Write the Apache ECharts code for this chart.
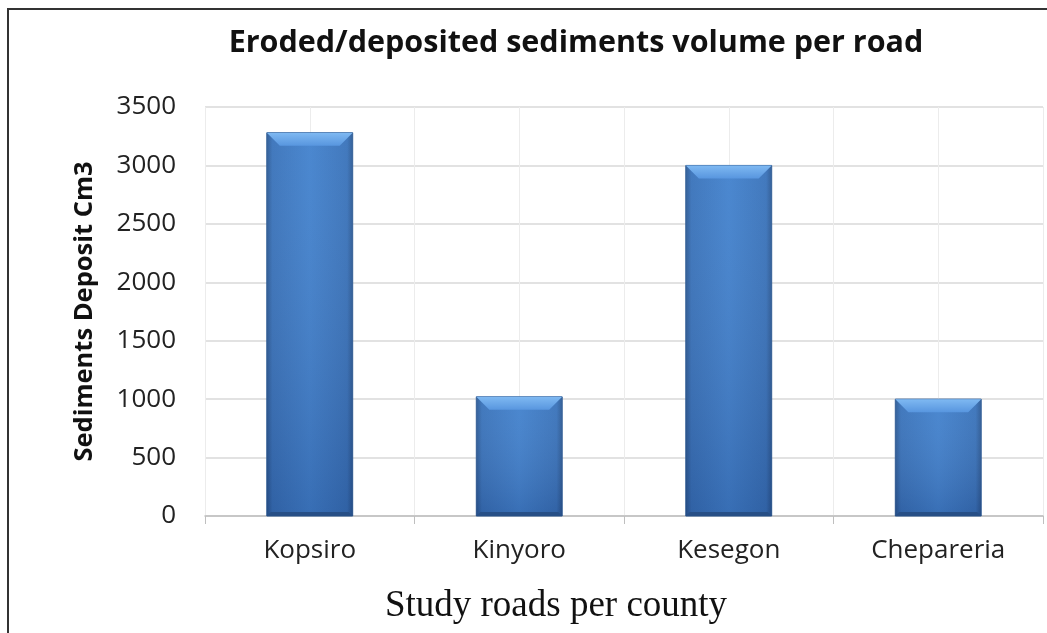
<!DOCTYPE html>
<html><head><meta charset="utf-8">
<script src="https://cdn.jsdelivr.net/npm/echarts@6/dist/echarts.min.js"></script>
<style>html,body{margin:0;padding:0;background:#fff}#c{width:1047px;height:633px}</style>
</head><body><div id="c"></div>
<script>
var categories = ["Kopsiro", "Kinyoro", "Kesegon", "Chepareria"];
var values = [3280, 1020, 3000, 1000];
var yTicks = {min: 0, max: 3500, interval: 500};

var chart = echarts.init(document.getElementById('c'));
function renderBar(params, api) {
  var i = api.value(0), v = api.value(1);
  var top = api.coord([i, v]);
  var bot = api.coord([i, 0]);
  var w = api.size([1, 0])[0] * 0.41;
  var x0 = top[0] - w / 2, x1 = top[0] + w / 2, y0 = top[1], y1 = bot[1];
  var b = 13;
  return {
    type: 'group',
    children: [
      {type: 'rect', shape: {x: x0, y: y0, width: w, height: y1 - y0},
       style: {fill: new echarts.graphic.LinearGradient(0, 0, 1, 0, [
         {offset: 0, color: '#2a5791'}, {offset: 0.07, color: '#3872ba'},
         {offset: 0.5, color: '#4181cd'}, {offset: 0.93, color: '#3872ba'},
         {offset: 1, color: '#2a5791'}]), stroke: '#2d5b94', lineWidth: 1}},
      {type: 'rect', shape: {x: x0, y: y0, width: w, height: y1 - y0},
       style: {fill: new echarts.graphic.LinearGradient(0, 0, 0, 1, [
         {offset: 0, color: 'rgba(255,255,255,0.05)'}, {offset: 1, color: 'rgba(0,0,40,0.15)'}])}},
      {type: 'polygon', shape: {points: [[x0, y0], [x1, y0], [x1 - b, y0 + b], [x0 + b, y0 + b]]},
       style: {fill: new echarts.graphic.LinearGradient(0, 0, 0, 1, [
         {offset: 0, color: '#7fb9f2'}, {offset: 1, color: '#5896df'}])}},
      {type: 'polygon', shape: {points: [[x0, y1], [x1, y1], [x1 - 4, y1 - 4], [x0 + 4, y1 - 4]]},
       style: {fill: '#274f86'}}
    ]
  };
}
chart.setOption({
  animation: false,
  graphic: [{type: 'rect', shape: {x: 8, y: 9, width: 1060, height: 650},
    style: {fill: 'none', stroke: '#333', lineWidth: 2}, z: 100}],
  title: {text: 'Eroded/deposited sediments volume per road', left: 571, top: 23, textAlign: 'center',
    textStyle: {fontFamily: 'Open Sans', fontWeight: 'bold', fontSize: 30.5, color: '#111'}},
  grid: {left: 205, right: 4, top: 107, bottom: 117},
  xAxis: [{
    type: 'category', data: categories, boundaryGap: true,
    axisLine: {lineStyle: {color: '#bfbfbf', width: 1.5}},
    axisTick: {show: true, length: 8, lineStyle: {color: '#bfbfbf'}},
    axisLabel: {fontFamily: 'Open Sans', fontSize: 26, color: '#222', margin: 22},
    name: 'Study roads per county', nameLocation: 'middle', nameGap: 72,
    nameTextStyle: {fontFamily: 'Liberation Serif', fontSize: 37, color: '#111', padding: [0, 136, 0, 0]}
  }, {
    type: 'value', min: 0, max: 8, interval: 1, position: 'bottom',
    axisLine: {show: false}, axisTick: {show: false}, axisLabel: {show: false},
    splitLine: {show: true, lineStyle: {color: '#ececec', width: 1}}
  }],
  yAxis: {
    type: 'value', min: yTicks.min, max: yTicks.max, interval: yTicks.interval,
    axisLine: {show: false}, axisTick: {show: false},
    axisLabel: {fontFamily: 'Open Sans', fontSize: 26, color: '#222', margin: 29,
      formatter: function (v) { return String(v); }},
    splitLine: {lineStyle: {color: '#d9d9d9', width: 1.5}},
    name: 'Sediments Deposit Cm3', nameLocation: 'middle', nameGap: 107, nameRotate: 90,
    nameTextStyle: {fontFamily: 'Open Sans', fontWeight: 'bold', fontSize: 25.5, color: '#111'}
  },
  series: [{
    type: 'custom', xAxisIndex: 0, yAxisIndex: 0,
    data: values.map(function (v, i) { return [i, v]; }),
    encode: {x: 0, y: 1},
    renderItem: renderBar, z: 10
  }]
});
</script></body></html>
